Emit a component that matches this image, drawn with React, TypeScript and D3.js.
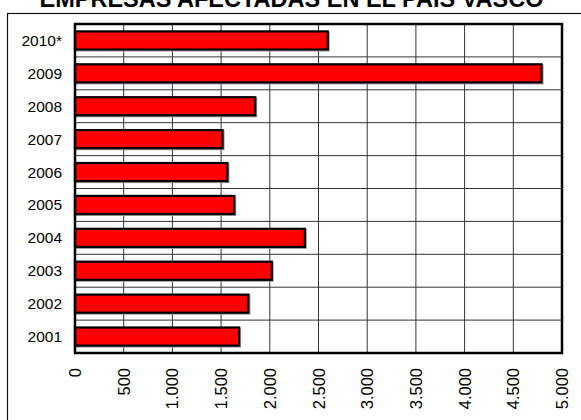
import React from "react";
import * as d3 from "d3";

const categories = ["2010*", "2009", "2008", "2007", "2006", "2005", "2004", "2003", "2002", "2001"];
const values = [2595, 4790, 1850, 1515, 1565, 1635, 2360, 2020, 1780, 1685];
const xTicks = [0, 500, 1000, 1500, 2000, 2500, 3000, 3500, 4000, 4500, 5000];
const title = "EMPRESAS AFECTADAS EN EL PAIS VASCO";

const W = 581;
const H = 420;
const plot = { left: 75, right: 562, top: 24, bottom: 353 };
const font = "Arial, 'Liberation Sans', sans-serif";

const fmt = (v: number) => {
  const s = d3.format(",")(v);
  return s.replace(/,/g, ".");
};

export default function App() {
  const x = d3.scaleLinear().domain([0, 5000]).range([plot.left, plot.right]);
  const y = d3
    .scaleBand<string>()
    .domain(categories)
    .range([plot.top, plot.bottom])
    .paddingInner(0.45)
    .paddingOuter(0.225);
  const step = y.step();
  const boundaries = d3.range(1, categories.length).map((i) => plot.top + i * step);

  return (
    <svg
      width={W}
      height={H}
      style={{ position: "absolute", left: 0, top: 0, background: "#fff" }}
      fontFamily={font}
    >
      <rect x={0} y={0} width={W} height={H} fill="#fff" />
      <rect x={7.5} y={13.5} width={700} height={600} fill="none" stroke="#111" strokeWidth={1.2} />
      <text x={291.5} y={7} textAnchor="middle" fontSize={23.5} fontWeight="bold" fill="#000">
        {title}
      </text>

      {/* gridlines */}
      {xTicks.slice(1, -1).map((t) => (
        <line key={"vx" + t} x1={x(t)} x2={x(t)} y1={plot.top} y2={plot.bottom} stroke="#333" strokeWidth={1} />
      ))}
      {boundaries.map((b, i) => (
        <line key={"hy" + i} x1={plot.left} x2={plot.right} y1={b} y2={b} stroke="#333" strokeWidth={1} />
      ))}

      {/* bars */}
      {categories.map((c, i) => (
        <g key={c}>
          <rect
            x={x(0) + 1}
            y={(y(c) as number) + 1}
            width={x(values[i]) - x(0)}
            height={y.bandwidth()}
            fill="none"
            stroke="#999"
            strokeWidth={2}
          />
          <rect
            x={x(0)}
            y={y(c) as number}
            width={x(values[i]) - x(0)}
            height={y.bandwidth()}
            fill="#ff0000"
            stroke="#000"
            strokeWidth={2.2}
          />
        </g>
      ))}

      {/* plot border */}
      <rect
        x={plot.left}
        y={plot.top}
        width={plot.right - plot.left}
        height={plot.bottom - plot.top}
        fill="none"
        stroke="#000"
        strokeWidth={2.5}
      />

      {/* y labels */}
      {categories.map((c) => (
        <text
          key={"yl" + c}
          x={62}
          y={(y(c) as number) + y.bandwidth() / 2}
          textAnchor="end"
          dominantBaseline="central"
          fontSize={15.5}
          fill="#000"
        >
          {c}
        </text>
      ))}

      {/* x labels */}
      {xTicks.map((t) => (
        <text
          key={"xl" + t}
          transform={`translate(${x(t)},368) rotate(-90)`}
          textAnchor="end"
          dominantBaseline="central"
          fontSize={16.5}
          fill="#000"
        >
          {fmt(t)}
        </text>
      ))}
    </svg>
  );
}
